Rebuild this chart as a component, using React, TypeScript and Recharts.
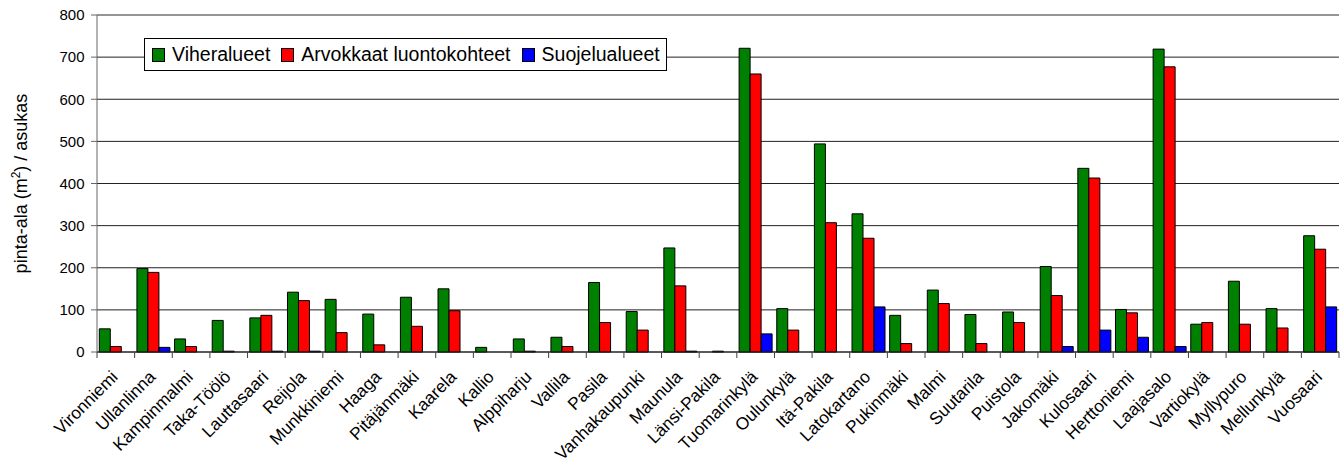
import React from "react";
import { BarChart, Bar, XAxis, YAxis, CartesianGrid, Legend, ReferenceLine } from "recharts";

const CATEGORIES = [
  "Vironniemi", "Ullanlinna", "Kampinmalmi", "Taka-Töölö", "Lauttasaari", "Reijola",
  "Munkkiniemi", "Haaga", "Pitäjänmäki", "Kaarela", "Kallio", "Alppiharju", "Vallila",
  "Pasila", "Vanhakaupunki", "Maunula", "Länsi-Pakila", "Tuomarinkylä", "Oulunkylä",
  "Itä-Pakila", "Latokartano", "Pukinmäki", "Malmi", "Suutarila", "Puistola", "Jakomäki",
  "Kulosaari", "Herttoniemi", "Laajasalo", "Vartiokylä", "Myllypuro", "Mellunkylä", "Vuosaari",
];
const VIHERALUEET = [55, 198, 31, 75, 81, 142, 125, 90, 130, 150, 11, 31, 35, 165, 96, 247, 0, 721, 103, 494, 328, 87, 147, 89, 95, 203, 436, 101, 719, 66, 168, 103, 276];
const ARVOKKAAT = [13, 189, 13, 2, 87, 122, 46, 17, 61, 98, 0, 2, 13, 70, 52, 157, 2, 660, 52, 307, 270, 20, 115, 20, 70, 134, 413, 93, 677, 70, 66, 57, 244];
const SUOJELU = [0, 11, 0, 0, 2, 2, 0, 0, 0, 0, 0, 0, 0, 0, 0, 2, 0, 43, 0, 0, 107, 0, 0, 0, 0, 13, 52, 35, 13, 0, 0, 0, 107];
const Y_TICKS = [0, 100, 200, 300, 400, 500, 600, 700, 800];
const SERIES_NAMES = ["Viheralueet", "Arvokkaat luontokohteet", "Suojelualueet"];

const data = CATEGORIES.map((name, i) => ({
  name,
  v: VIHERALUEET[i],
  a: ARVOKKAAT[i],
  s: SUOJELU[i],
}));

const FONT = "'Liberation Sans', Arial, sans-serif";
const W = 1341;
const H = 466;
const Y_AXIS_W = 97;
const M_RIGHT = 2;
const BAND = (W - Y_AXIS_W - M_RIGHT) / CATEGORIES.length;

const XTick = (props: any) => {
  const { x, y, payload, index } = props;
  const half = payload && typeof payload.offset === "number" && payload.offset > 0 ? payload.offset : BAND / 2;
  const tx = x + 3;
  const ty = y + 26;
  return (
    <g>
      <line x1={x - half} x2={x - half} y1={y} y2={y + 6} stroke="#404040" />
      {index === CATEGORIES.length - 1 && (
        <line x1={x + half} x2={x + half} y1={y} y2={y + 6} stroke="#404040" />
      )}
      <text
        x={tx}
        y={ty}
        transform={`rotate(-45, ${tx}, ${ty})`}
        textAnchor="end"
        fontSize={17.3}
        fontFamily={FONT}
        fill="#000"
      >
        {payload.value}
      </text>
    </g>
  );
};

const YLabel = (props: any) => {
  const vb = props.viewBox || {};
  const cx = 26.5;
  const cy = (vb.y ?? 15) + (vb.height ?? 337) / 2;
  return (
    <text
      x={cx}
      y={cy}
      transform={`rotate(-90, ${cx}, ${cy})`}
      textAnchor="middle"
      fontSize={18}
      fontFamily={FONT}
      fill="#000"
    >
      <tspan>pinta-ala (m</tspan>
      <tspan dy={-7} fontSize={12}>2</tspan>
      <tspan dy={7}>) / asukas</tspan>
    </text>
  );
};

const LegendBox = (props: any) => {
  const payload = [...(props.payload || [])].sort(
    (p: any, q: any) => SERIES_NAMES.indexOf(p.value) - SERIES_NAMES.indexOf(q.value)
  );
  return (
    <div
      style={{
        border: "1px solid #000",
        background: "#fff",
        width: 523,
        height: 33,
        boxSizing: "border-box",
        display: "flex",
        alignItems: "center",
        paddingLeft: 7,
        fontFamily: FONT,
        fontSize: 19.5,
        whiteSpace: "nowrap",
        color: "#000",
      }}
    >
      {payload.map((p: any, i: number) => (
        <div key={i} style={{ display: "flex", alignItems: "center", marginRight: 11 }}>
          <span
            style={{
              display: "inline-block",
              width: 11,
              height: 12,
              background: p.color,
              border: "1px solid #000",
              marginRight: 7,
              marginTop: 1,
            }}
          />
          <span>{p.value}</span>
        </div>
      ))}
    </div>
  );
};

export default function App() {
  return (
    <div style={{ position: "absolute", left: 0, top: 0, width: W, height: H, background: "#fff" }}>
      <BarChart
        width={W}
        height={H}
        data={data}
        margin={{ top: 15, right: M_RIGHT, bottom: 0, left: 0 }}
        barCategoryGap={2.3}
        barGap={0}
      >
        <CartesianGrid vertical={false} stroke="#222" strokeOpacity={1} />
        <XAxis
          dataKey="name"
          interval={0}
          height={114}
          tickSize={0}
          tickMargin={0}
          tickLine={false}
          tick={<XTick />}
          axisLine={{ stroke: "#222" }}
        />
        <YAxis
          width={Y_AXIS_W}
          domain={[0, 800]}
          ticks={Y_TICKS}
          interval={0}
          tickSize={6}
          tickMargin={6.5}
          tick={{ fontSize: 15, fill: "#000", fontFamily: FONT }}
          tickLine={{ stroke: "#666" }}
          axisLine={{ stroke: "#666" }}
          label={<YLabel />}
        />
        <YAxis
          yAxisId="r"
          orientation="right"
          width={0}
          tick={false}
          tickLine={false}
          axisLine={{ stroke: "#999" }}
        />
        <ReferenceLine y={800} stroke="#999" strokeWidth={1} />
        <Legend
          verticalAlign="middle"
          align="center"
          layout="horizontal"
          content={<LegendBox />}
          wrapperStyle={{ left: 144, top: 38, width: "auto", height: "auto" }}
        />
        <Bar dataKey="v" name={SERIES_NAMES[0]} fill="#008000" stroke="#000" strokeWidth={1} isAnimationActive={false} />
        <Bar dataKey="a" name={SERIES_NAMES[1]} fill="#FF0000" stroke="#000" strokeWidth={1} isAnimationActive={false} />
        <Bar dataKey="s" name={SERIES_NAMES[2]} fill="#0000FF" stroke="#000" strokeWidth={1} isAnimationActive={false} />
      </BarChart>
    </div>
  );
}
